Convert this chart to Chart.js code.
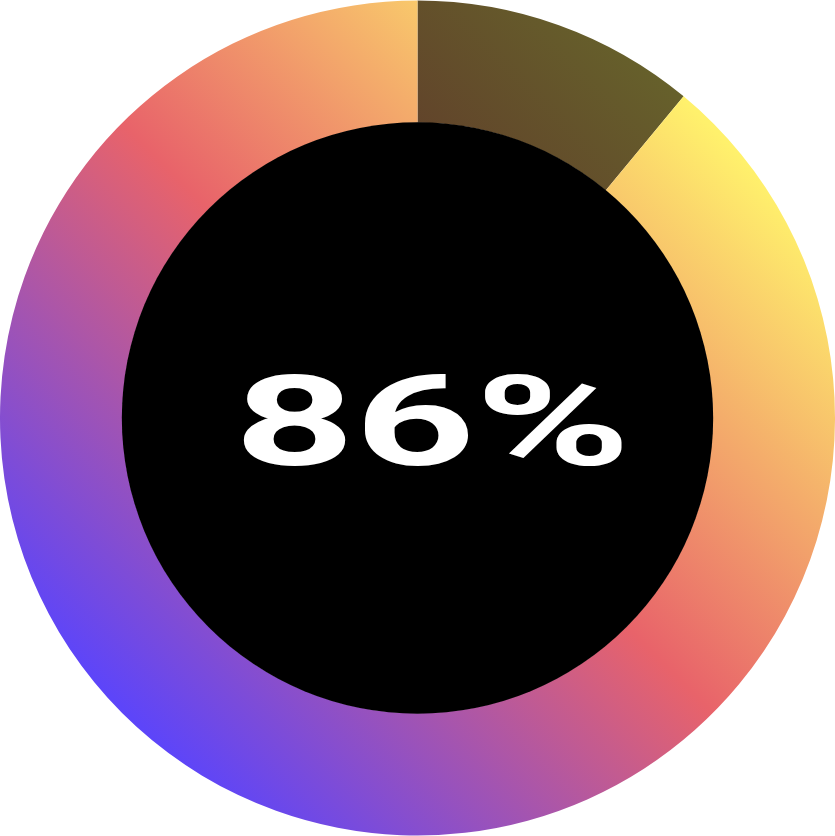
<!DOCTYPE html>
<html>
<head>
<meta charset="utf-8">
<script src="https://cdn.jsdelivr.net/npm/chart.js@4.4.1/dist/chart.umd.min.js"></script>
<style>
  html, body { margin: 0; padding: 0; background: #ffffff; }
  #wrap { width: 835px; height: 836px; position: relative; }
</style>
</head>
<body>
<div id="wrap"><canvas id="c"></canvas></div>
<script>
// ---- data ----
const labels = ['Remaining', 'Complete'];
const values = [11, 89];
const centerLabel = '86%';

// gradient colour stops (position along top-right -> bottom-left diagonal)
const stopPositions = [0.15, 0.5, 0.85];
const stopColors = [[255, 241, 108], [232, 99, 106], [93, 69, 249]];
const dimFactor = 0.4;
const labelFont = '700 {s}px Roboto, "Open Sans", sans-serif';

function makeGradient(ctx, area, factor) {
  const g = ctx.createLinearGradient(area.right, area.top, area.left, area.bottom);
  stopPositions.forEach((p, i) => {
    const c = stopColors[i].map(v => Math.round(v * factor));
    g.addColorStop(p, `rgb(${c[0]},${c[1]},${c[2]})`);
  });
  return g;
}

const centerPlugin = {
  id: 'centerPlugin',
  afterDatasetsDraw(chart) {
    const meta = chart.getDatasetMeta(0);
    const arc = meta.data[0];
    if (!arc) return;
    const { x, y, innerRadius } = arc.getProps(['x', 'y', 'innerRadius'], true);
    const ctx = chart.ctx;
    ctx.save();
    ctx.beginPath();
    ctx.arc(x, y, innerRadius + 0.5, 0, Math.PI * 2);
    ctx.fillStyle = '#000000';
    ctx.fill();

    // text box measured from reference
    const boxW = 380, boxH = 94;
    const cx = x + 15, cy = y + 2;
    ctx.font = labelFont.replace('{s}', 100);
    let m = ctx.measureText(centerLabel);
    const h100 = m.actualBoundingBoxAscent + m.actualBoundingBoxDescent;
    const fs = 100 * boxH / h100;
    ctx.font = labelFont.replace('{s}', fs.toFixed(2));
    m = ctx.measureText(centerLabel);
    const w = m.actualBoundingBoxLeft + m.actualBoundingBoxRight;
    const sx = boxW / w;
    const hh = m.actualBoundingBoxAscent + m.actualBoundingBoxDescent;
    ctx.translate(cx, cy);
    ctx.scale(sx, 1);
    ctx.fillStyle = '#ffffff';
    ctx.textAlign = 'left';
    ctx.textBaseline = 'alphabetic';
    ctx.fillText(centerLabel, -w / 2 + m.actualBoundingBoxLeft, -hh / 2 + m.actualBoundingBoxAscent);
    ctx.restore();
  }
};

new Chart(document.getElementById('c'), {
  type: 'doughnut',
  data: {
    labels: labels,
    datasets: [{
      data: values,
      borderWidth: 0,
      hoverOffset: 0,
      backgroundColor(context) {
        const chart = context.chart;
        const area = chart.chartArea;
        if (!area) return '#000';
        return makeGradient(chart.ctx, area, context.dataIndex === 0 ? dimFactor : 1);
      }
    }]
  },
  options: {
    responsive: true,
    maintainAspectRatio: false,
    animation: false,
    events: [],
    cutout: '70.7%',
    rotation: 0,
    layout: { padding: 0 },
    plugins: {
      legend: { display: false },
      tooltip: { enabled: false }
    }
  },
  plugins: [centerPlugin]
});
</script>
</body>
</html>
